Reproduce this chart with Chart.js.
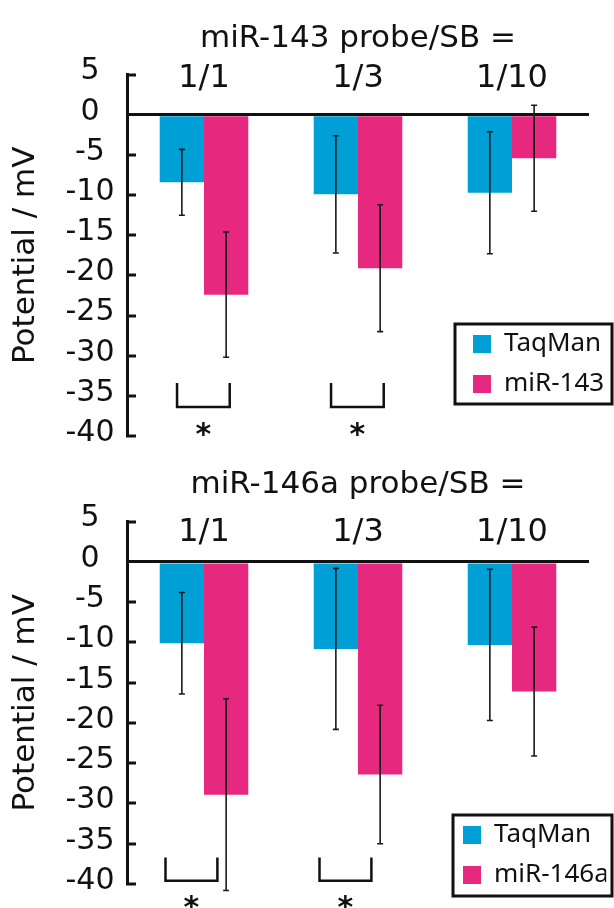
<!DOCTYPE html>
<html>
<head>
<meta charset="utf-8">
<title>miR-143 / miR-146a probe potential</title>
<script src="https://cdn.jsdelivr.net/npm/chart.js@4.4.1/dist/chart.umd.min.js"></script>
<style>
  html, body { margin: 0; padding: 0; background: #fff; }
  #wrap { position: relative; width: 614px; height: 908px; overflow: hidden; }
  canvas { position: absolute; left: 0; }
  #top { top: 0; }
  #bottom { top: 447px; }
</style>
</head>
<body>
<div id="wrap">
  <canvas id="top" width="614" height="447"></canvas>
  <canvas id="bottom" width="614" height="461"></canvas>
</div>
<script>
// values (mV)
var ratios = ['1/1', '1/3', '1/10'];
var yTickValues = [5, 0, -5, -10, -15, -20, -25, -30, -35, -40];

var taqman143 = [-8.4, -9.9, -9.7];
var taqman143Err = [4.1, 7.3, 7.6];
var mir143 = [-22.4, -19.1, -5.4];
var mir143Err = [7.8, 7.9, 6.6];
var significant143 = ['1/1', '1/3'];

var taqman146 = [-10.1, -10.8, -10.3];
var taqman146Err = [6.3, 10.0, 9.4];
var mir146 = [-28.9, -26.4, -16.1];
var mir146Err = [11.9, 8.6, 8.0];
var significant146 = ['1/1', '1/3'];

var BLUE = '#00a0d7';
var PINK = '#e6287f';
var INK = '#111';

// error bars drawn from the dataset values through the y scale
var errorBars = {
  id: 'errorBars',
  afterDatasetsDraw: function (chart) {
    var ctx = chart.ctx, ys = chart.scales.y;
    ctx.save();
    ctx.strokeStyle = '#1a1a1a';
    ctx.lineWidth = 1.6;
    chart.data.datasets.forEach(function (ds, i) {
      chart.getDatasetMeta(i).data.forEach(function (bar, j) {
        var v = ds.data[j], e = ds.errors[j];
        var x = bar.x;
        var y1 = ys.getPixelForValue(v + e), y2 = ys.getPixelForValue(v - e);
        ctx.beginPath();
        ctx.moveTo(x, y1); ctx.lineTo(x, y2);
        ctx.moveTo(x - 3, y1); ctx.lineTo(x + 3, y1);
        ctx.moveTo(x - 3, y2); ctx.lineTo(x + 3, y2);
        ctx.stroke();
      });
    });
    ctx.restore();
  }
};

// brackets + asterisks under the significant pairs
var significance = {
  id: 'significance',
  afterDraw: function (chart, args, o) {
    var ctx = chart.ctx, xs = chart.scales.x, ys = chart.scales.y;
    var w = xs.getPixelForValue(1) - xs.getPixelForValue(0);
    ctx.save();
    ctx.strokeStyle = INK;
    ctx.lineWidth = 2.5;
    ctx.fillStyle = INK;
    ctx.font = 'bold 30px "DejaVu Sans"';
    ctx.textAlign = 'center';
    ctx.textBaseline = 'alphabetic';
    var m = ctx.measureText('*');
    o.marks.forEach(function (label) {
      var c = xs.getPixelForValue(chart.data.labels.indexOf(label));
      var x1 = c + o.from * w, x2 = c + o.to * w;
      var y1 = ys.getPixelForValue(o.top), y2 = ys.getPixelForValue(o.bottom);
      ctx.beginPath();
      ctx.moveTo(x1, y1); ctx.lineTo(x1, y2); ctx.lineTo(x2, y2); ctx.lineTo(x2, y1);
      ctx.stroke();
      var sy = ys.getPixelForValue(o.star);
      ctx.fillText('*', (x1 + x2) / 2, sy + (m.actualBoundingBoxAscent - m.actualBoundingBoxDescent) / 2);
    });
    ctx.restore();
  }
};

// lets the built-in legend sit inside the plot, boxed, without taking layout space
var floatLegend = {
  id: 'floatLegend',
  beforeUpdate: function (chart) {
    var lg = chart.legend;
    if (lg && !lg._floating) {
      var fit = lg.fit;
      lg.fit = function () {
        fit.call(this);
        this._fullWidth = this.width;
        this.width = 0;
      };
      lg._floating = true;
    }
  },
  afterLayout: function (chart, args, o) {
    var lg = chart.legend;
    var bottom = chart.chartArea.bottom + o.bottomOffset;
    var top = bottom - o.height;
    lg.left = o.x;
    lg.width = lg._fullWidth + 10;
    lg.right = lg.left + lg.width;
    lg.top = top - 7;
    lg.height = o.height + 30;
    lg.bottom = lg.top + lg.height;
    lg._frame = { left: o.frameX, top: top, right: o.right, bottom: bottom };
  },
  afterDraw: function (chart) {
    var f = chart.legend && chart.legend._frame;
    if (!f) return;
    var ctx = chart.ctx;
    ctx.save();
    ctx.strokeStyle = INK;
    ctx.lineWidth = 3;
    ctx.strokeRect(f.left, f.top, f.right - f.left, f.bottom - f.top);
    ctx.restore();
  }
};

function makeChart(id, title, labelB, dataA, errA, dataB, errB, layoutOpts) {
  return new Chart(document.getElementById(id), {
    type: 'bar',
    data: {
      labels: ratios,
      datasets: [
        { label: 'TaqMan', data: dataA, errors: errA, backgroundColor: BLUE, borderWidth: 0 },
        { label: labelB, data: dataB, errors: errB, backgroundColor: PINK, borderWidth: 0 }
      ]
    },
    plugins: [errorBars, significance, floatLegend],
    options: {
      responsive: false,
      animation: false,
      events: [],
      categoryPercentage: 0.575,
      barPercentage: 1,
      layout: { padding: { left: 0, right: 25, top: 0, bottom: layoutOpts.padBottom } },
      scales: {
        x: {
          type: 'category',
          position: 'top',
          offset: true,
          grid: { display: false, drawTicks: false },
          border: { display: false },
          ticks: {
            color: INK,
            font: { family: 'DejaVu Sans', size: 32 },
            mirror: true,
            padding: layoutOpts.xPad,
            maxRotation: 0,
            autoSkip: false
          },
          afterFit: function (s) {
            s.height = layoutOpts.xHeight;
            s.paddingLeft = s.paddingRight = 0;
          }
        },
        y: {
          min: -40,
          max: 5,
          afterBuildTicks: function (s) {
            s.ticks = yTickValues.map(function (v) { return { value: v }; });
          },
          grid: {
            color: function (c) { return c.tick && c.tick.value === 0 ? INK : 'rgba(0,0,0,0)'; },
            lineWidth: function (c) { return c.tick && c.tick.value === 0 ? 3 : 0; },
            drawTicks: true,
            tickLength: -9,
            tickColor: INK,
            tickWidth: 3
          },
          border: { display: true, color: INK, width: 3 },
          ticks: {
            color: INK,
            font: { family: 'DejaVu Sans', size: 30 },
            padding: 21.5,
            crossAlign: 'center',
            labelOffset: -3,
            autoSkip: false
          },
          title: {
            display: true,
            text: 'Potential / mV',
            color: INK,
            font: { family: 'DejaVu Sans', size: 31 },
            padding: { top: 7, bottom: 0 }
          },
          afterFit: function (s) {
            s.width = 127;
            s.paddingTop = s.paddingBottom = 0;
          }
        }
      },
      plugins: {
        title: {
          display: true,
          text: title,
          fullSize: false,
          color: INK,
          font: { family: 'DejaVu Sans', size: 31, weight: 'normal' },
          padding: { top: layoutOpts.titleTop, bottom: 0 }
        },
        legend: {
          display: true,
          position: 'right',
          align: 'start',
          labels: {
            color: INK,
            font: { family: 'Noto Sans', size: 26 },
            boxWidth: 18,
            boxHeight: 18,
            padding: 14
          }
        },
        tooltip: { enabled: false },
        significance: layoutOpts.sig,
        floatLegend: layoutOpts.legend
      }
    }
  });
}

makeChart('top', 'miR-143 probe/SB =', 'miR-143',
  taqman143, taqman143Err, mir143, mir143Err, {
    padBottom: 11, xPad: -15.7, xHeight: 17, titleTop: 20.5,
    sig: { marks: significant143, from: -0.175, to: 0.167, top: -33.4, bottom: -36.4, star: -39.2 },
    legend: { x: 459, frameX: 455, right: 612, height: 80, bottomOffset: -32 }
  });

makeChart('bottom', 'miR-146a probe/SB =', 'miR-146a',
  taqman146, taqman146Err, mir146, mir146Err, {
    padBottom: 24, xPad: -8.7, xHeight: 18.5, titleTop: 19,
    sig: { marks: significant146, from: -0.25, to: 0.087, top: -36.7, bottom: -39.6, star: -42.25 },
    legend: { x: 449, frameX: 453, right: 612, height: 81, bottomOffset: 12 }
  });
</script>
</body>
</html>
